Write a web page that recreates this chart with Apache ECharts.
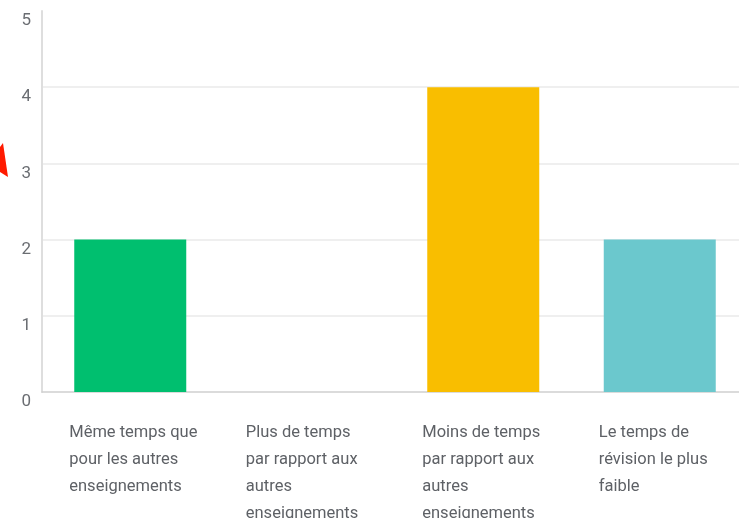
<!DOCTYPE html>
<html lang="fr">
<head>
    <meta charset="UTF-8">
    <title>Temps de révision</title>
    <script src="https://cdn.jsdelivr.net/npm/echarts@6/dist/echarts.min.js"></script>
    <style>
        html, body { margin: 0; padding: 0; background: #fff; }
    </style>
</head>
<body>
<div id="main" style="width: 739px;height: 518px;"></div>
</body>
    <script type="text/javascript">
        // réponses
        var categories = [
            'Même temps que\npour les autres\nenseignements',
            'Plus de temps\npar rapport aux\nautres\nenseignements',
            'Moins de temps\npar rapport aux\nautres\nenseignements',
            'Le temps de\nrévision le plus\nfaible'
        ];
        var values = [2, 0, 4, 2];
        var barColors = ['#00bf6f', '#507cb6', '#f9be00', '#6bc8cd'];
        var yTicks = [0, 1, 2, 3, 4, 5];

        var myChart = echarts.init(document.getElementById('main'));

        var option = {
            backgroundColor: '#fff',
            animation: false,
            grid: {
                left: 42,
                width: 706,
                top: 11,
                height: 381,
                outerBoundsMode: 'none',
                containLabel: false
            },
            xAxis: {
                type: 'category',
                data: categories,
                axisTick: { show: false },
                axisLine: { lineStyle: { color: '#d0d0d0', width: 1.5 } },
                axisLabel: {
                    interval: 0,
                    margin: 27,
                    formatter: function (v) {
                        return v.split('\n').map(function (l) {
                            return '{a|' + l + '}';
                        }).join('\n');
                    },
                    rich: {
                        a: {
                            width: 122,
                            align: 'left',
                            fontFamily: 'Roboto',
                            fontSize: 16.5,
                            lineHeight: 27,
                            color: '#5e6166'
                        }
                    }
                }
            },
            yAxis: {
                type: 'value',
                min: yTicks[0],
                max: yTicks[yTicks.length - 1],
                interval: 1,
                axisLine: { show: true, lineStyle: { color: '#dedede', width: 2 } },
                axisTick: { show: false },
                axisLabel: {
                    margin: 11,
                    verticalAlign: 'top',
                    lineHeight: 20,
                    fontFamily: 'Roboto',
                    fontSize: 17,
                    color: '#6a6d72'
                },
                splitLine: {
                    lineStyle: {
                        color: ['transparent', '#efefef', '#efefef', '#efefef', '#efefef', 'transparent'],
                        width: 2
                    }
                }
            },
            series: [{
                type: 'bar',
                barWidth: 112,
                data: values.map(function (v, i) {
                    return { value: v, itemStyle: { color: barColors[i] } };
                })
            }],
            graphic: [{
                type: 'polygon',
                shape: { points: [[0, 147], [3, 143], [8, 177], [0, 172]] },
                style: { fill: '#ff1a00' }
            }]
        };
        myChart.setOption(option);
    </script>
</html>
